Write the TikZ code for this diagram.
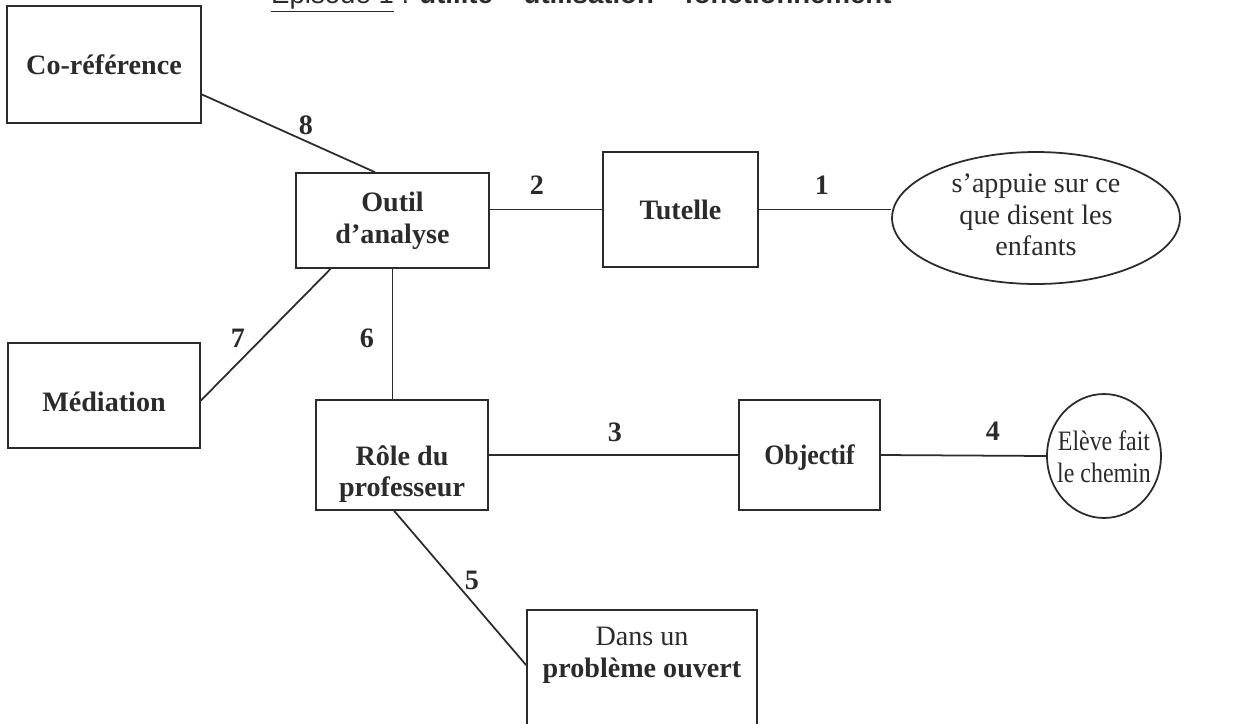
\documentclass[tikz,border=0pt]{standalone}
\usepackage{fontspec}
\setmainfont{Liberation Serif}
\setsansfont{Liberation Sans}
\usetikzlibrary{shapes.geometric}
\definecolor{Ink}{HTML}{2B2B2B}
\newcommand{\boxfont}{\fontsize{16}{18}\selectfont}
\tikzset{
  box/.style={draw=Ink,line width=1pt,inner sep=0pt,align=center,text=Ink,font=\boxfont\bfseries},
  oval/.style={ellipse,draw=Ink,line width=1pt,inner sep=0pt},
  boxtxt/.style={align=center,text=Ink,font=\boxfont},
  num/.style={text=Ink,font=\boxfont\bfseries},
  link/.style={draw=Ink,line width=1pt}
}

\begin{document}
\begin{tikzpicture}[x=0.02cm,y=-0.02cm]
\useasboundingbox (0,0) rectangle (1242,724);
\node[anchor=base west,text=Ink,font=\fontsize{15.7}{18}\selectfont\sffamily] (title) at (265,3) {\underline{Episode 1} : \textbf{utilité -- utilisation -- fonctionnement}};
% boxes
\node[box,minimum width=3.88cm,minimum height=2.34cm] (coref) at (104,64.5) {Co-référence};
\node[box,minimum width=3.86cm,minimum height=1.90cm] (outil) at (392.5,220.5) {Outil\\d’analyse};
\node[box,minimum width=3.10cm,minimum height=2.30cm] (tutelle) at (680.5,209.5) {Tutelle};
\node[oval,minimum width=5.76cm,minimum height=2.64cm] (appuie) at (1036,218) {};
\node[boxtxt] (appuietxt) at (1036,215) {s’appuie sur ce\\que disent les\\enfants};
\node[box,minimum width=3.84cm,minimum height=2.10cm] (mediation) at (104,395.5) {};
\node[boxtxt,font=\boxfont\bfseries] (mediationtxt) at (104,402) {Médiation};
\node[box,minimum width=3.44cm,minimum height=2.20cm] (role) at (402,455) {};
\node[boxtxt,font=\boxfont\bfseries] (roletxt) at (402,474) {Rôle du\\professeur};
\node[box,minimum width=2.82cm,minimum height=2.20cm] (objectif) at (809.5,455) {};
\node[boxtxt,font=\boxfont\bfseries] (objectiftxt) at (809.5,458) {\scalebox{0.92}[1]{Objectif}};
\node[oval,minimum width=2.28cm,minimum height=2.48cm] (eleve) at (1104,456) {};
\node[boxtxt] (elevetxt) at (1104,457) {\scalebox{0.85}[1]{Elève fait}\\\scalebox{0.85}[1]{le chemin}};
\node[box,minimum width=4.60cm,minimum height=3.80cm] (dans) at (642,705) {};
\node[boxtxt] (danstxt) at (642,655) {Dans un\\\textbf{problème ouvert}};
% connectors
\draw[link] (coref.-17.5) -- (outil.110);
\draw[link] (tutelle.west -| outil.east) -- (tutelle.west);
\draw[link] (tutelle.east) -- (tutelle.east -| appuie.west);
\draw[link] (outil.218.6) -- (mediation.-3);
\draw[link] (outil.south) -- (outil.south |- role.north);
\draw[link] (role.east) -- (objectif.west);
\draw[link] (objectif.east) -- (eleve.west);
\draw[link] (role.262.7) -- (dans.161.7);
% numbers
\node[num] (n1) at (822,185) {1};
\node[num] (n2) at (537,185) {2};
\node[num] (n3) at (615,432) {3};
\node[num] (n4) at (993,431) {4};
\node[num] (n5) at (472,580) {5};
\node[num] (n6) at (367,338) {6};
\node[num] (n7) at (238,338) {7};
\node[num] (n8) at (306,125) {8};
\end{tikzpicture}
\end{document}
